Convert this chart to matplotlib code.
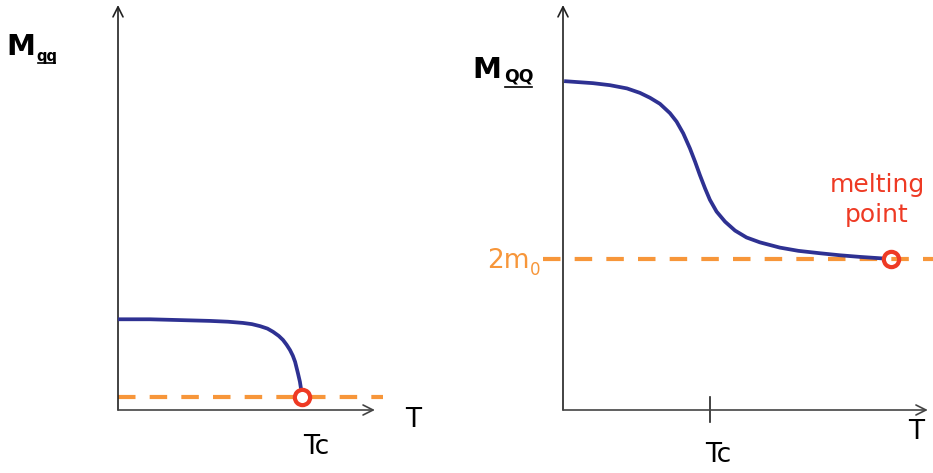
import matplotlib
matplotlib.use("Agg")
import matplotlib.pyplot as plt

W, H = 933, 473

# ---- data (arbitrary units, axes span 0..10) ----
left_T = [0.0, 1.13, 2.2, 3.26, 3.9, 4.43, 4.75, 5.04, 5.30, 5.50, 5.70, 5.85, 5.98, 6.10, 6.20, 6.28, 6.38, 6.45, 6.50]
left_M = [2.24, 2.24, 2.22, 2.20, 2.18, 2.15, 2.12, 2.07, 2.01, 1.93, 1.83, 1.73, 1.61, 1.48, 1.34, 1.19, 0.91, 0.70, 0.48]
left_Tc, left_Mmelt = 6.51, 0.31
left_floor = 0.31

right_T = [0.03, 0.81, 1.27, 1.73, 2.08, 2.35, 2.62, 2.89, 3.07, 3.25, 3.43, 3.57, 3.70, 3.84, 3.97, 4.15,
           4.38, 4.65, 4.96, 5.32, 5.86, 6.36, 6.95, 7.49, 8.03, 8.68]
right_M = [8.12, 8.07, 8.02, 7.94, 7.83, 7.71, 7.56, 7.33, 7.12, 6.83, 6.46, 6.13, 5.80, 5.47, 5.19, 4.90,
           4.65, 4.43, 4.26, 4.14, 4.01, 3.93, 3.87, 3.82, 3.78, 3.74]
right_Tc = 3.97
right_Tmelt, right_Mmelt = 8.86, 3.73
right_floor = 3.73

BLUE = "#2e3192"
ORANGE = "#f7963a"
RED = "#ee3a24"
AXC = "#222222"

fig = plt.figure(figsize=(W / 100, H / 100), dpi=100)
fig.patch.set_facecolor("white")


def px_axes(x0, x1, y_top, y_bot):
    return fig.add_axes([x0 / W, 1 - y_bot / H, (x1 - x0) / W, (y_bot - y_top) / H])


line_kw = dict(color=BLUE, lw=2.7, clip_on=False, zorder=3, solid_joinstyle="round", solid_capstyle="butt")
dash_kw = dict(color=ORANGE, lw=3.0, dashes=(4.2, 3.4), clip_on=False, zorder=2)
ring_kw = dict(marker="o", ms=11, mfc="none", mec=RED, mew=3.0, clip_on=False, zorder=4)
arrow_kw = dict(arrowstyle="->", lw=1.2, color=AXC, mutation_scale=18, shrinkA=0, shrinkB=0)

# ---------------- left panel ----------------
ax1 = px_axes(118, 400, 5, 410)
ax1.set_xlim(0, 10)
ax1.set_ylim(0, 10)
ax1.axis("off")
ax1.annotate("", xy=(0, 10), xytext=(0, 0), arrowprops=arrow_kw, annotation_clip=False)
ax1.annotate("", xy=(9.11, 0), xytext=(0, 0), arrowprops=dict(arrow_kw, color="#444444"), annotation_clip=False)
ax1.plot([0, 9.4], [left_floor, left_floor], **dash_kw)
ax1.plot(left_T, left_M, **line_kw)
ax1.plot([left_Tc], [left_Mmelt], **ring_kw)

# ---------------- right panel ----------------
ax2 = px_axes(543, 933, 5, 410)
ax2.set_xlim(-20 / 37, 370 / 37)
ax2.set_ylim(0, 10)
ax2.axis("off")
ax2.annotate("", xy=(0, 10), xytext=(0, 0), arrowprops=arrow_kw, annotation_clip=False)
ax2.annotate("", xy=(9.86, 0), xytext=(0, 0), arrowprops=dict(arrow_kw, color="#444444"), annotation_clip=False)
ax2.plot([right_Tc, right_Tc], [0.32, -0.30], color=AXC, lw=1.2, clip_on=False)
ax2.plot([-20 / 37, 370 / 37], [right_floor, right_floor], **dash_kw)
ax2.plot(right_T, right_M, **line_kw)
ax2.plot([right_Tmelt], [right_Mmelt], **ring_kw)


# ---------------- text ----------------
def ptext(x, y, s, **kw):
    fig.text(x / W, 1 - y / H, s, **kw)


FONT = "DejaVu Sans"
ptext(21, 47, "M", fontsize=21, fontweight="bold", ha="center", va="center", family=FONT)
ptext(47, 56, "qq", fontsize=10.5, fontweight="bold", ha="center", va="center", family=FONT)
fig.add_artist(plt.Line2D([38 / W, 55 / W], [1 - 63 / H, 1 - 63 / H], color="black", lw=1.2))

ptext(487, 70, "M", fontsize=21, fontweight="bold", ha="center", va="center", family=FONT)
ptext(519, 76, "QQ", fontsize=12.5, fontweight="bold", ha="center", va="center", family=FONT)
fig.add_artist(plt.Line2D([505 / W, 532 / W], [1 - 87 / H, 1 - 87 / H], color="black", lw=1.2))

ptext(508, 261, "2m", fontsize=19, ha="center", va="center", color=ORANGE, family=FONT)
ptext(535, 270, "0", fontsize=12, ha="center", va="center", color=ORANGE, family=FONT)

ptext(877, 185, "melting", fontsize=18, ha="center", va="center", color=RED, family=FONT)
ptext(877, 215, "point", fontsize=18, ha="center", va="center", color=RED, family=FONT)

ptext(413, 420, "T", fontsize=19, ha="center", va="center", color="black", family=FONT)
ptext(316, 447, "Tc", fontsize=19, ha="center", va="center", color="black", family=FONT)
ptext(916, 432, "T", fontsize=19, ha="center", va="center", color="black", family=FONT)
ptext(718, 455, "Tc", fontsize=19, ha="center", va="center", color="black", family=FONT)

fig.savefig("out.png", dpi=100, facecolor="white")
